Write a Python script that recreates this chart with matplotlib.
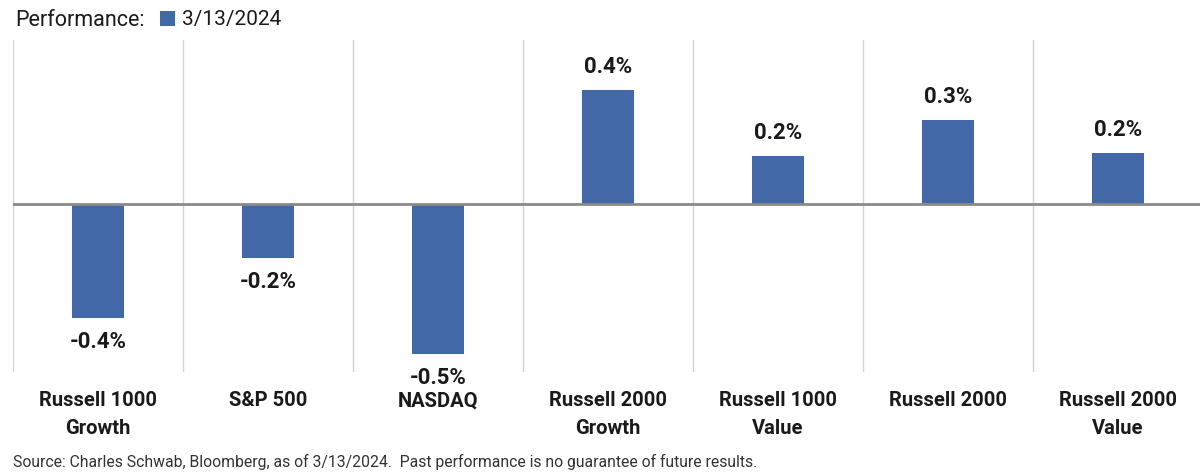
import matplotlib.pyplot as plt
import numpy as np

categories = ["Russell 1000\nGrowth", "S&P 500", "NASDAQ", "Russell 2000\nGrowth",
              "Russell 1000\nValue", "Russell 2000", "Russell 2000\nValue"]
perf = [-0.38, -0.18, -0.50, 0.38, 0.16, 0.28, 0.17]
series_label = "3/13/2024"

bar_color = "#4268A8"

plt.rcParams["font.family"] = ["Roboto", "DejaVu Sans"]

fig = plt.figure(figsize=(12, 4.76), dpi=100)
ax = fig.add_axes([13 / 1200, 1 - 372 / 476, 1 - 13 / 1200, 332 / 476])

x = np.arange(len(categories))
bars = ax.bar(x, perf, width=0.31, color=bar_color, label=series_label, zorder=3)

ax.set_xlim(-0.5, 6.5 - 3 / 170)
ax.set_ylim(-0.559, 0.548)

# separators between categories
for b in np.arange(-0.5, 6.5, 1.0):
    ax.axvline(b, color="#d4d4d4", lw=1, zorder=1)
ax.axhline(0, color="#8a8a8a", lw=2, zorder=4)

for rect, v in zip(bars, perf):
    off = 9 if v > 0 else -9
    ax.annotate(f"{v:.1f}%", (rect.get_x() + rect.get_width() / 2, v),
                xytext=(0, off), textcoords="offset points",
                ha="center", va="bottom" if v > 0 else "top",
                fontsize=16, fontweight="bold", color="#1a1a1a")

ax.set_xticks(x)
ax.set_xticklabels(categories, fontsize=14.5, fontweight="bold", color="#1a1a1a",
                   linespacing=1.6)
ax.tick_params(axis="x", length=0, pad=14)
ax.set_yticks([])
for s in ax.spines.values():
    s.set_visible(False)

fig.text(15 / 1200, 1 - 20 / 476, "Performance:", fontsize=15.5, color="#1a1a1a",
         ha="left", va="center")
fig.legend(handles=[bars], labels=[series_label], loc="center left",
           bbox_to_anchor=(141 / 1200, 1 - 20 / 476), frameon=False,
           fontsize=15, handlelength=0.75, handleheight=0.75, handletextpad=0.3,
           labelcolor="#1a1a1a")

fig.text(13 / 1200, 1 - 462 / 476,
         "Source: Charles Schwab, Bloomberg, as of 3/13/2024.  Past performance is no guarantee of future results.",
         fontsize=11.3, color="#333333", ha="left", va="center")

fig.savefig("out.png", dpi=100)
